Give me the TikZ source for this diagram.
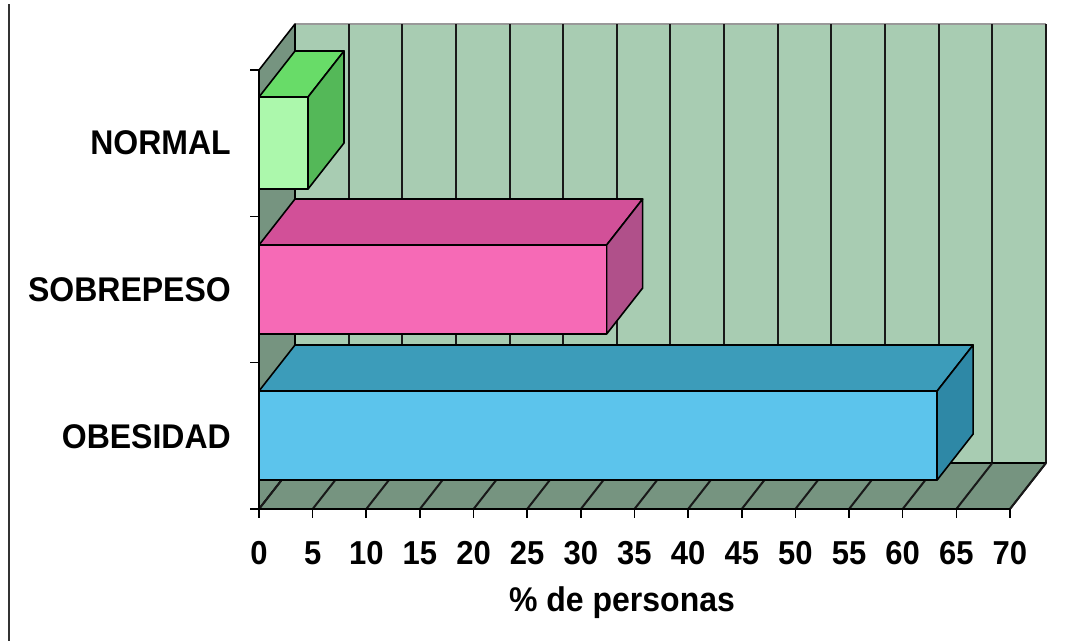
\documentclass[tikz,border=0pt]{standalone}
\usepackage{graphicx}
\usepackage{fontspec}
\setmainfont{Liberation Sans}
\definecolor{wallback}{RGB}{168,204,178}
\definecolor{wallside}{RGB}{118,148,128}
\definecolor{nfront}{RGB}{172,248,172}
\definecolor{ntop}{RGB}{104,220,104}
\definecolor{nside}{RGB}{84,184,88}
\definecolor{pfront}{RGB}{246,106,182}
\definecolor{ptop}{RGB}{210,80,152}
\definecolor{pside}{RGB}{176,80,138}
\definecolor{bfront}{RGB}{92,196,236}
\definecolor{btop}{RGB}{60,156,186}
\definecolor{bside}{RGB}{46,136,166}
\newcommand{\tallt}[1]{\scalebox{1}[1.07]{#1}}
\tikzset{
  edge/.style={draw=black,line width=1.6pt,line join=round},
  gridl/.style={draw=black!90,line width=2pt},
  lbl/.style={font=\fontsize{32}{38}\selectfont\bfseries,inner sep=0pt},
  tlbl/.style={font=\fontsize{31}{37}\selectfont\bfseries,inner sep=0pt},
}
\newcommand{\mybar}[6]{%
  \fill[#5,edge] (259,#2) -- ({259+#1*10.73},#2) -- ({295+#1*10.73},{#2-46}) -- (295,{#2-46}) -- cycle;
  \fill[#6,edge] ({259+#1*10.73},#2) -- ({295+#1*10.73},{#2-46}) -- ({295+#1*10.73},{#3-46}) -- ({259+#1*10.73},#3) -- cycle;
  \fill[#4,edge] (259,#2) rectangle ({259+#1*10.73},#3);
}
\begin{document}
\begin{tikzpicture}[x=1pt,y=-1pt]
\useasboundingbox (0,0) rectangle (1082,641);
\fill[white] (0,0) rectangle (1082,641);
% left frame line
\draw[line width=1.6pt,black!80] (9,4) -- (9,641);
% back wall
\fill[wallback] (295,24) rectangle (1046,463);
\draw[line width=1.2pt,black!40] (295,24) -- (1046,24);
\foreach \k in {1,...,14} {
  \draw[gridl] ({295+\k*53.64},24) -- ({295+\k*53.64},463);
}
% left wall
\fill[wallside,edge] (259,70) -- (295,24) -- (295,463) -- (259,509) -- cycle;
% floor
\fill[wallside,edge] (259,509) -- (1010,509) -- (1046,463) -- (295,463) -- cycle;
\foreach \k in {0,...,14} {
  \draw[gridl] ({259+\k*53.64},509) -- ({295+\k*53.64},463);
}
% bars
\mybar{4.57}{97}{189}{nfront}{ntop}{nside}
\mybar{32.4}{245}{334}{pfront}{ptop}{pside}
\mybar{63.2}{391}{480}{bfront}{btop}{bside}
% axes
\draw[edge] (259,70) -- (259,509) -- (1010,509);
\foreach \y in {70,216.33,362.67,509} {
  \draw[line width=1.6pt] (250,\y) -- (259,\y);
}
\foreach \k in {0,...,14} {
  \draw[line width=1.6pt] ({259+\k*53.64},509) -- ({259+\k*53.64},518);
  \pgfmathtruncatemacro\v{\k*5}
  \node[tlbl] (t\k) at ({259+\k*53.64},553) {\tallt{\v}};
}
\node[lbl,anchor=east] (cn) at (231,143) {\tallt{NORMAL}};
\node[lbl,anchor=east] (cs) at (231,290) {\tallt{SOBREPESO}};
\node[lbl,anchor=east] (co) at (231,437) {\tallt{OBESIDAD}};
\node[lbl] (xl) at (622,603) {\tallt{\% de personas}};
\end{tikzpicture}
\end{document}
